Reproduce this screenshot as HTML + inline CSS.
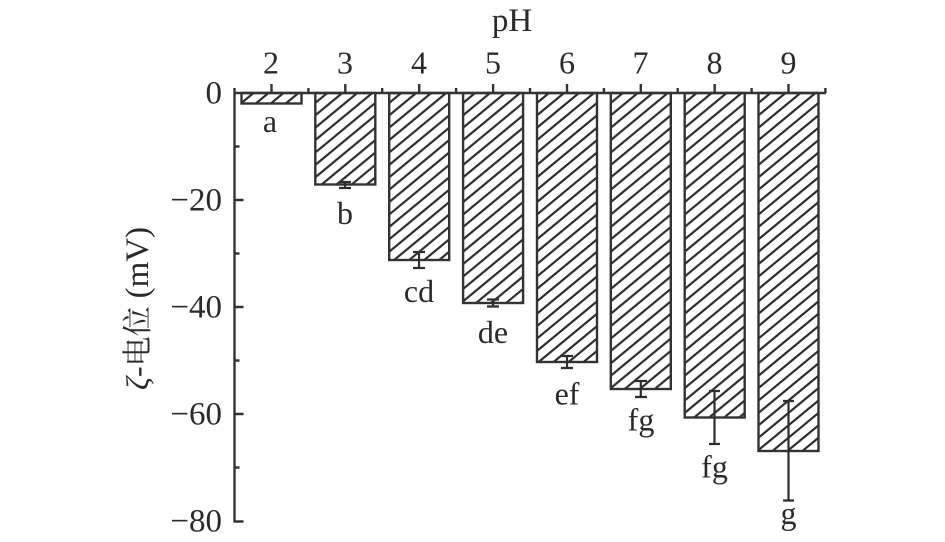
<!DOCTYPE html>
<html><head><meta charset="utf-8">
<style>
html,body{margin:0;padding:0;background:#fff;width:945px;height:542px;overflow:hidden}
svg{display:block}
text{font-family:"Liberation Serif","Noto Serif CJK SC",serif;font-size:33px;fill:#2a2a2a}
.l text{font-size:32px}
</style></head>
<body>
<svg width="945" height="542" viewBox="0 0 945 542" xmlns="http://www.w3.org/2000/svg">
<defs>
<pattern id="h" patternUnits="userSpaceOnUse" width="75" height="62" patternTransform="translate(-3,0)">
<path stroke="#2e2e2e" stroke-width="2.2" fill="none" d="M-2 1.65L2.42 -2M-2 14.05L17.42 -2M-2 26.45L32.42 -2M-2 38.85L47.42 -2M-2 51.25L62.42 -2M-2 63.65L77.42 -2M-2 76.05L92.42 -2M-2 88.45L107.42 -2M-2 100.85L122.42 -2M-2 113.25L137.42 -2M-2 125.65L152.42 -2"/>
</pattern>
</defs>

<!-- bars -->
<g stroke="#333" stroke-width="2.4" fill="url(#h)">
<rect x="0" y="0" width="60" height="10.5" transform="translate(241.5,93)"/>
<rect x="0" y="0" width="60" height="91.5" transform="translate(315.3,93)"/>
<rect x="0" y="0" width="60" height="167" transform="translate(389.2,93)"/>
<rect x="0" y="0" width="60" height="210" transform="translate(463.1,93)"/>
<rect x="0" y="0" width="60" height="269" transform="translate(537,93)"/>
<rect x="0" y="0" width="60" height="296" transform="translate(610.8,93)"/>
<rect x="0" y="0" width="60" height="324.5" transform="translate(684.7,93)"/>
<rect x="0" y="0" width="60" height="358" transform="translate(758.5,93)"/>
</g>

<!-- error bars -->
<g stroke="#2e2e2e" stroke-width="2.2" fill="none">
<path d="M339 182H351M345 182V188M339 188H351"/>
<path d="M413 252H425M419 252V268M413 268H425"/>
<path d="M487 299.5H499M493 299.5V306.5M487 306.5H499"/>
<path d="M561 356H573M567 356V368M561 368H573"/>
<path d="M635 381H647M640.8 381V397M635 397H647"/>
<path d="M709 391H720M714.5 391V444M709 444H720"/>
<path d="M783 401H794M788.5 401V500.5M783 500.5H794"/>
</g>

<!-- axes -->
<g stroke="#333" stroke-width="2.4" fill="none">
<path d="M234.5 93H826"/>
<path d="M234.5 88V522"/>
<path d="M233.5 521.5H243.5M234.5 414H243.5M234.5 307H243.5M234.5 200H243.5"/>
<path d="M234.5 467.5H239.5M234.5 360.5H239.5M234.5 253.5H239.5M234.5 146.5H239.5"/>
<path d="M271.5 84V93M345.3 84V93M419.2 84V93M493.1 84V93M567 84V93M640.8 84V93M714.7 84V93M788.5 84V93"/>
<path d="M308.4 88V93M382.2 88V93M456.1 88V93M530 88V93M603.9 88V93M677.7 88V93M751.6 88V93M825.4 88V93"/>
</g>

<!-- top labels -->
<text x="512" y="31" text-anchor="middle">pH</text>
<g text-anchor="middle" class="l">
<text x="271" y="73.5">2</text>
<text x="345" y="73.5">3</text>
<text x="419" y="73.5">4</text>
<text x="493" y="73.5">5</text>
<text x="567" y="73.5">6</text>
<text x="640.5" y="73.5">7</text>
<text x="714.5" y="73.5">8</text>
<text x="788.5" y="73.5">9</text>
</g>

<!-- y labels -->
<g text-anchor="end">
<text x="222" y="103.5">0</text>
<text x="222" y="210.5">−20</text>
<text x="222" y="317.5">−40</text>
<text x="222" y="424.5">−60</text>
<text x="222" y="531.5">−80</text>
</g>

<!-- significance letters -->
<g text-anchor="middle" class="l">
<text x="270" y="132">a</text>
<text x="345" y="224">b</text>
<text x="419" y="302">cd</text>
<text x="493" y="343">de</text>
<text x="567" y="404.5">ef</text>
<text x="641" y="430.5">fg</text>
<text x="714.5" y="477.5">fg</text>
<text x="788.5" y="524">g</text>
</g>

<!-- y axis title -->
<text transform="translate(148,390) rotate(-90)" style="font-size:32px"><tspan font-style="italic">ζ</tspan>-<tspan style="font-size:30px">电位</tspan> <tspan style="font-size:33px">(mV)</tspan></text>
</svg>
</body></html>
